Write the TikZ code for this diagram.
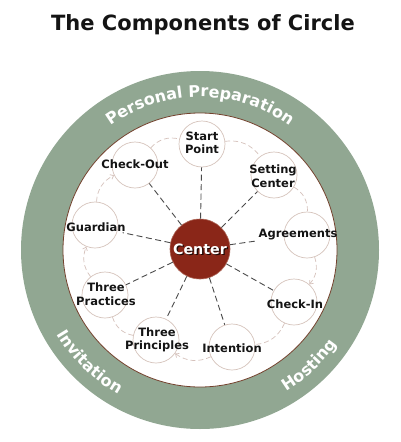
\documentclass[tikz,border=0pt]{standalone}
\usepackage{fontspec}
\setmainfont{DejaVu Sans}
\usetikzlibrary{arrows.meta,decorations.text,calc}
\definecolor{ringc}{RGB}{145,167,146}
\definecolor{innerb}{RGB}{115,65,45}
\definecolor{satline}{RGB}{214,196,188}
\definecolor{linkc}{RGB}{214,194,188}
\definecolor{spokec}{RGB}{75,75,75}
\definecolor{centerc}{RGB}{138,38,24}
\definecolor{centerb}{RGB}{175,105,90}
\definecolor{labelc}{RGB}{20,20,20}
\newcommand\ringfnt{\bfseries\fontsize{16}{16}\selectfont}
\begin{document}
\begin{tikzpicture}[x=1pt,y=1pt,
  sat/.style={circle,draw=satline,line width=0.7pt,minimum size=46pt,inner sep=0pt},
  lbl/.style={font=\bfseries\fontsize{11.5}{13.5}\selectfont,align=center,inner sep=1pt,text=labelc},
  spoke/.style={draw=spokec,line width=0.9pt,dash pattern=on 6pt off 3.5pt},
  link/.style={draw=linkc,line width=0.7pt,dash pattern=on 5pt off 3pt,bend left=30},
  linkarrow/.style={link,-{Straight Barb[length=3pt,width=5pt]}},
  ringtext/.style={decorate,decoration={text along path,text align=center,text color=white}}
]
\useasboundingbox (0,0) rectangle (400,-442);
\node[font=\bfseries\fontsize{21}{25}\selectfont,anchor=base,text=labelc] (title) at (203,-30) {The Components of Circle};
\coordinate (O) at (200,-250);
\fill[ringc] (O) circle[radius=179];
\filldraw[fill=white,draw=innerb,line width=0.8pt] (O) circle[radius=137];
\path[ringtext,decoration={text={|\ringfnt|Personal Preparation}}]
  ($(O)+(150:153)$) arc[start angle=150,end angle=30,radius=153];
\path[ringtext,decoration={text={|\ringfnt|Invitation}}]
  ($(O)+(195.5:166)$) arc[start angle=195.5,end angle=255.5,radius=166];
\path[ringtext,decoration={text={|\ringfnt|Hosting}}]
  ($(O)+(283.5:166)$) arc[start angle=283.5,end angle=343.5,radius=166];
% satellites
\node[sat] (sp)  at (202,-144) {};
\node[sat] (sc)  at (274,-175) {};
\node[sat] (ag)  at (307,-235) {};
\node[sat] (ci)  at (294,-302) {};
\node[sat] (in)  at (232,-347) {};
\node[sat] (tpr) at (156,-340) {};
\node[sat] (tpa) at (105,-295) {};
\node[sat] (gu)  at (95,-225) {};
\node[sat] (co)  at (135,-165) {};
% labels
\node[lbl] (spt)  at (202,-143) {Start\\Point};
\node[lbl] (sct)  at (273,-176) {Setting\\Center};
\node[lbl] (agt)  at (298,-235) {Agreements};
\node[lbl] (cit)  at (295,-304) {Check-In};
\node[lbl] (int)  at (232,-348) {Intention};
\node[lbl] (tprt) at (157,-340) {Three\\Principles};
\node[lbl] (tpat) at (106,-294) {Three\\Practices};
\node[lbl] (gut)  at (96,-227) {Guardian};
\node[lbl] (cot)  at (135,-164) {Check-Out};
% center
\node[circle,fill=centerc,draw=centerb,line width=0.6pt,minimum size=60pt] (c) at (200,-249) {};
\node[font=\bfseries\fontsize{14.3}{16}\selectfont,text=black,opacity=0.75] (cshadow) at (201.3,-250.6) {Center};
\node[font=\bfseries\fontsize{14.3}{16}\selectfont,text=white] (ct) at (200,-249) {Center};
% spokes
\draw[spoke] (c) -- (sp);
\draw[spoke] (c) -- (sc);
\draw[spoke] (c) -- (agt);
\draw[spoke] (c) -- (ci);
\draw[spoke] (c) -- (in);
\draw[spoke] (c) -- (tpr);
\draw[spoke] (c) -- (tpa);
\draw[spoke] (c) -- (gut);
\draw[spoke] (c) -- (co);
% links
\draw[link] (sp) to (sc);
\draw[link] (sc) to (ag);
\draw[linkarrow] (ag) to (ci);
\draw[link] (ci) to (in);
\draw[linkarrow] (in) to (tpr);
\draw[link] (tpr) to (tpa);
\draw[linkarrow] (tpa) to (gu);
\draw[linkarrow] (gu) to (co);
\draw[link] (co) to (sp);
\end{tikzpicture}
\end{document}
